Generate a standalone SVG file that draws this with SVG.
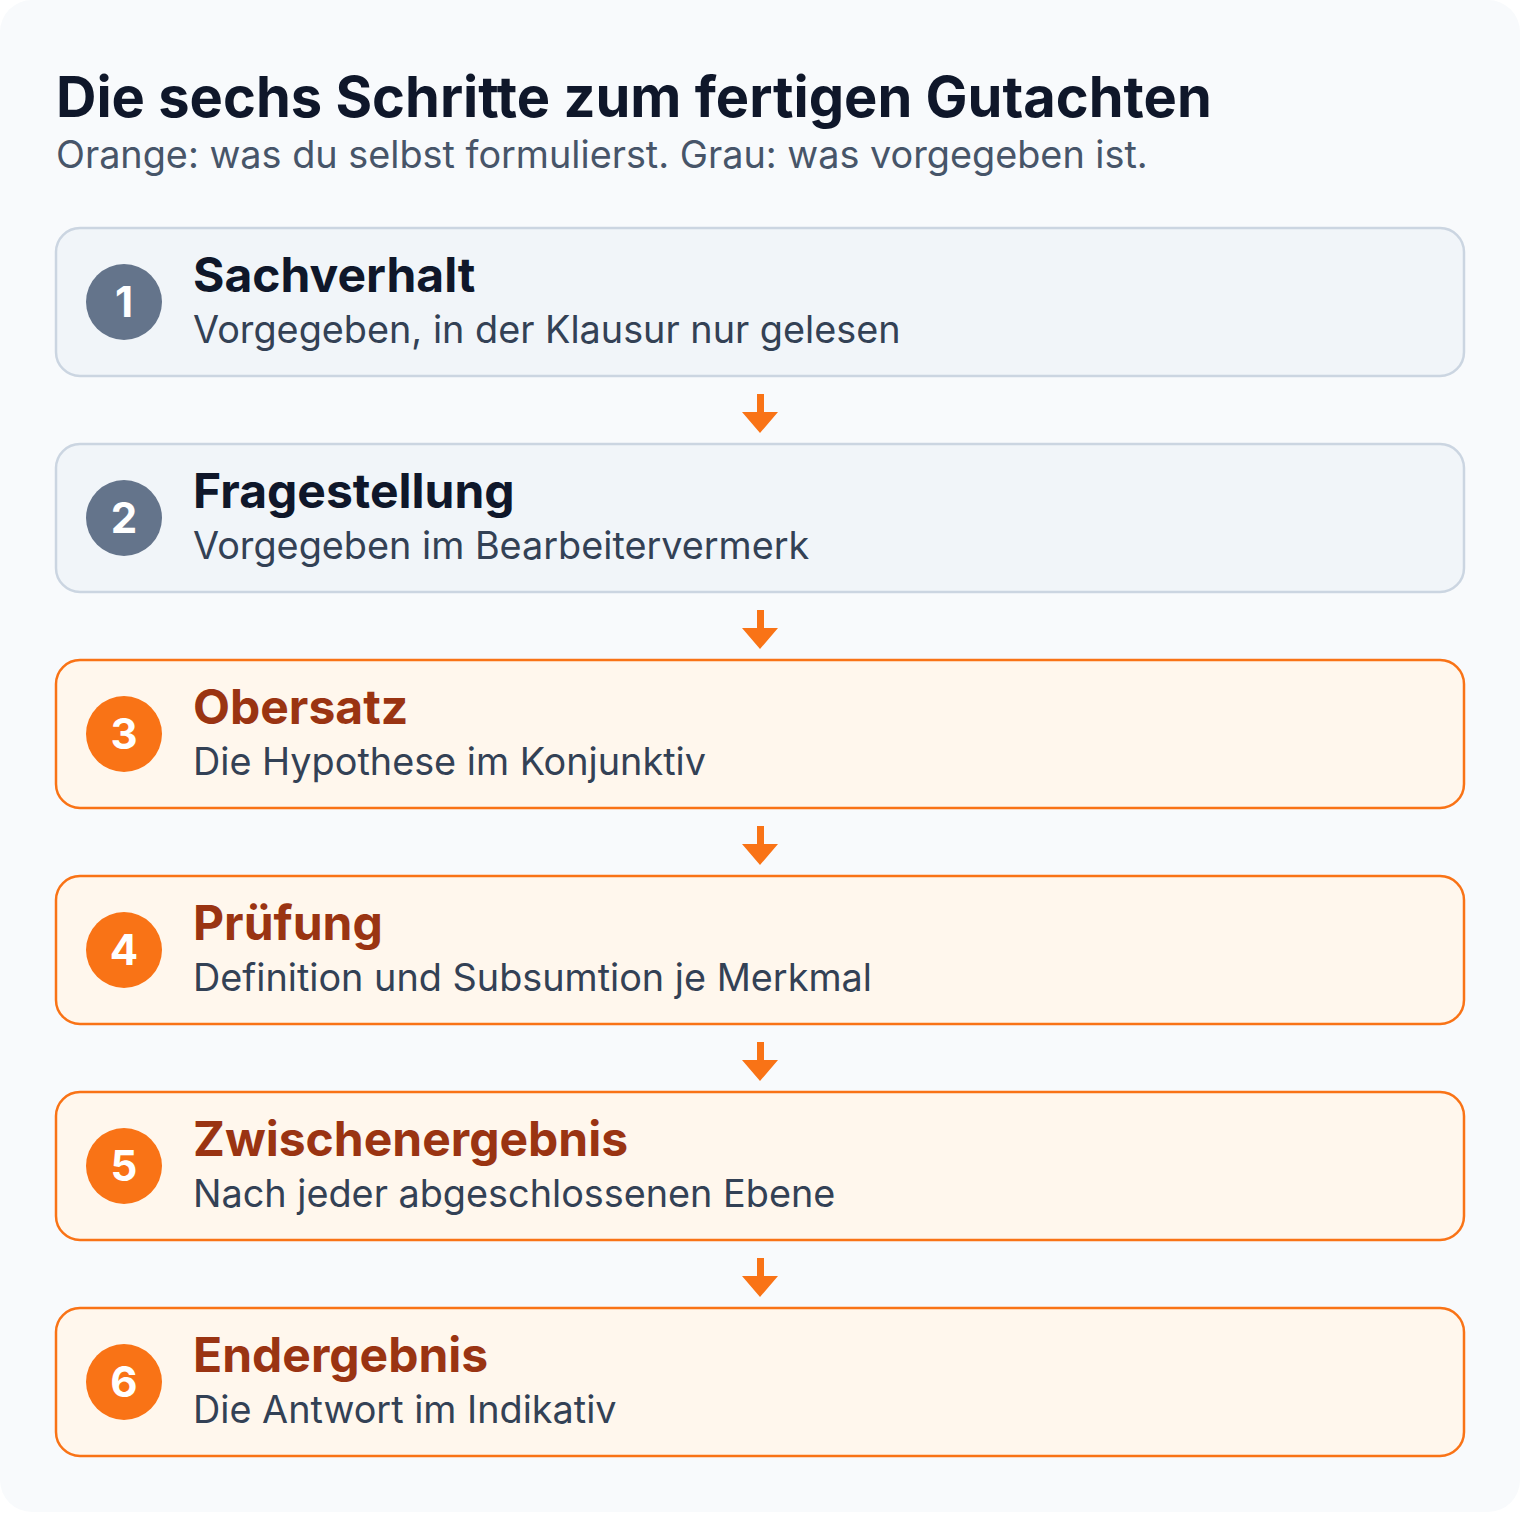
<svg xmlns="http://www.w3.org/2000/svg" width="1520" height="1520" viewBox="0 0 1520 1520">
<style>
.title{font-family:Inter,"Noto Sans","Liberation Sans",sans-serif;font-weight:700;font-size:56px;fill:#0f172a}
.sub{font-family:Inter,"Noto Sans","Liberation Sans",sans-serif;font-size:37.8px;fill:#475569}
.box-g{fill:#f1f5f9;stroke:#cbd5e1;stroke-width:2.5}
.box-o{fill:#fff7ed;stroke:#f97316;stroke-width:2.5}
.num{font-family:Inter,"Noto Sans","Liberation Sans",sans-serif;font-weight:700;font-size:42px;fill:#ffffff;text-anchor:middle}
.nt-g{font-family:Inter,"Noto Sans","Liberation Sans",sans-serif;font-weight:700;font-size:48px;fill:#0f172a}
.nt-o{font-family:Inter,"Noto Sans","Liberation Sans",sans-serif;font-weight:700;font-size:48px;fill:#9a3412}
.ns{font-family:Inter,"Noto Sans","Liberation Sans",sans-serif;font-size:37.8px;fill:#334155}
.arrow{fill:#f97316}
</style>
<rect width="1520" height="1520" fill="#ffffff"/>
<rect x="0" y="0" width="1520" height="1512" rx="32" fill="#f8fafc"/>
<text class="title" x="56" y="117">Die sechs Schritte zum fertigen Gutachten</text>
<text class="sub" x="56" y="168">Orange: was du selbst formulierst. Grau: was vorgegeben ist.</text>

<g id="connectors">
<path class="arrow" d="M757 394h7v18h14l-18 21l-18-21h15z"/>
<path class="arrow" d="M757 610h7v18h14l-18 21l-18-21h15z"/>
<path class="arrow" d="M757 826h7v18h14l-18 21l-18-21h15z"/>
<path class="arrow" d="M757 1042h7v18h14l-18 21l-18-21h15z"/>
<path class="arrow" d="M757 1258h7v18h14l-18 21l-18-21h15z"/>
</g>

<g id="step1">
<rect class="box-g" x="56" y="228" width="1408" height="148" rx="24"/>
<circle cx="124" cy="302" r="38" fill="#64748b"/>
<text class="num" x="124" y="317">1</text>
<text class="nt-g" x="193" y="292">Sachverhalt</text>
<text class="ns" x="193" y="343">Vorgegeben, in der Klausur nur gelesen</text>
</g>
<g id="step2">
<rect class="box-g" x="56" y="444" width="1408" height="148" rx="24"/>
<circle cx="124" cy="518" r="38" fill="#64748b"/>
<text class="num" x="124" y="533">2</text>
<text class="nt-g" x="193" y="508">Fragestellung</text>
<text class="ns" x="193" y="559">Vorgegeben im Bearbeitervermerk</text>
</g>
<g id="step3">
<rect class="box-o" x="56" y="660" width="1408" height="148" rx="24"/>
<circle cx="124" cy="734" r="38" fill="#f97316"/>
<text class="num" x="124" y="749">3</text>
<text class="nt-o" x="193" y="724">Obersatz</text>
<text class="ns" x="193" y="775">Die Hypothese im Konjunktiv</text>
</g>
<g id="step4">
<rect class="box-o" x="56" y="876" width="1408" height="148" rx="24"/>
<circle cx="124" cy="950" r="38" fill="#f97316"/>
<text class="num" x="124" y="965">4</text>
<text class="nt-o" x="193" y="940">Prüfung</text>
<text class="ns" x="193" y="991">Definition und Subsumtion je Merkmal</text>
</g>
<g id="step5">
<rect class="box-o" x="56" y="1092" width="1408" height="148" rx="24"/>
<circle cx="124" cy="1166" r="38" fill="#f97316"/>
<text class="num" x="124" y="1181">5</text>
<text class="nt-o" x="193" y="1156">Zwischenergebnis</text>
<text class="ns" x="193" y="1207">Nach jeder abgeschlossenen Ebene</text>
</g>
<g id="step6">
<rect class="box-o" x="56" y="1308" width="1408" height="148" rx="24"/>
<circle cx="124" cy="1382" r="38" fill="#f97316"/>
<text class="num" x="124" y="1397">6</text>
<text class="nt-o" x="193" y="1372">Endergebnis</text>
<text class="ns" x="193" y="1423">Die Antwort im Indikativ</text>
</g>
</svg>
